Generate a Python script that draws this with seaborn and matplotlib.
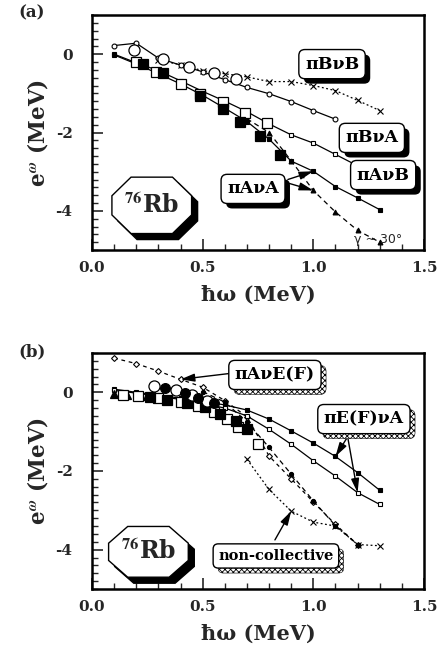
import numpy as np
import pandas as pd
import matplotlib
matplotlib.use('Agg')
import matplotlib.pyplot as plt
import seaborn as sns
from matplotlib.ticker import MultipleLocator, FixedLocator
from matplotlib.patches import Polygon
import matplotlib.transforms as mtransforms
import matplotlib.patheffects as pe

sns.set_theme(style='ticks')
plt.rcParams['font.family'] = ['DejaVu Serif']
plt.rcParams['font.weight'] = 'bold'
plt.rcParams['mathtext.fontset'] = 'stix'
plt.rcParams['hatch.linewidth'] = 0.6

# ---------------- data: panel (a) ----------------
a_BvB_x = [0.3, 0.4, 0.5, 0.6, 0.7, 0.8, 0.9, 1.0, 1.1, 1.2, 1.3]
a_BvB_y = [-0.15, -0.27, -0.42, -0.50, -0.58, -0.70, -0.70, -0.80, -0.93, -1.18, -1.44]
a_BvA_x = [0.1, 0.2, 0.3, 0.4, 0.5, 0.6, 0.7, 0.8, 0.9, 1.0, 1.1]
a_BvA_y = [0.22, 0.28, -0.10, -0.28, -0.45, -0.65, -0.85, -1.01, -1.21, -1.44, -1.66]
a_AvB_x = [0.1, 0.2, 0.3, 0.4, 0.5, 0.6, 0.7, 0.8, 0.9, 1.0, 1.1, 1.2]
a_AvB_y = [0.0, -0.22, -0.42, -0.68, -0.95, -1.20, -1.47, -1.78, -2.06, -2.27, -2.56, -2.85]
a_AvA_x = [0.1, 0.2, 0.3, 0.4, 0.5, 0.6, 0.7, 0.8, 0.9, 1.0, 1.1, 1.2, 1.3]
a_AvA_y = [-0.02, -0.25, -0.50, -0.76, -1.05, -1.38, -1.72, -2.17, -2.73, -2.99, -3.38, -3.67, -3.97]
a_AvA30_x = [0.7, 0.8, 0.9, 1.0, 1.1, 1.2, 1.3]
a_AvA30_y = [-1.65, -2.00, -2.72, -3.48, -4.03, -4.50, -4.80]
a_expB_x = [0.19, 0.32, 0.44, 0.55, 0.65]
a_expB_y = [0.11, -0.13, -0.34, -0.48, -0.64]
a_expA_open_x = [0.20, 0.29, 0.40, 0.49, 0.59, 0.69, 0.79]
a_expA_open_y = [-0.21, -0.45, -0.76, -1.02, -1.23, -1.50, -1.76]
a_expA_fill_x = [0.23, 0.32, 0.49, 0.59, 0.67, 0.76, 0.85]
a_expA_fill_y = [-0.26, -0.47, -1.06, -1.40, -1.74, -2.10, -2.57]

# ---------------- data: panel (b) ----------------
b_AvEF_x = [0.1, 0.2, 0.3, 0.4, 0.5, 0.6, 0.7, 0.8, 0.9, 1.0, 1.1, 1.2]
b_AvEF_y = [0.87, 0.73, 0.54, 0.33, 0.13, -0.21, -0.62, -1.62, -2.20, -2.79, -3.36, -3.87]
b_AvEF2_x = [0.5, 0.6, 0.7, 0.8, 0.9, 1.0, 1.1, 1.2]
b_AvEF2_y = [0.02, -0.25, -0.75, -1.40, -2.08, -2.76, -3.39, -3.87]
b_nc_x = [0.7, 0.8, 0.9, 1.0, 1.1, 1.2, 1.3]
b_nc_y = [-1.70, -2.47, -3.02, -3.30, -3.40, -3.87, -3.90]
b_EF_x = [0.1, 0.2, 0.3, 0.4, 0.5, 0.6, 0.7, 0.8, 0.9, 1.0, 1.1, 1.2, 1.3]
b_EFvA_up_y = [0.08, 0.0, -0.07, -0.15, -0.23, -0.32, -0.45, -0.68, -0.98, -1.29, -1.63, -2.04, -2.49]
b_EFvA_lo_y = [0.05, -0.02, -0.10, -0.18, -0.28, -0.40, -0.60, -0.94, -1.32, -1.74, -2.13, -2.55, -2.85]
b_oc_x = [0.28, 0.38, 0.45, 0.52]
b_oc_y = [0.17, 0.05, -0.08, -0.22]
b_fc_x = [0.33, 0.42, 0.48, 0.55]
b_fc_y = [0.12, -0.02, -0.15, -0.28]
b_ft_x = [0.10, 0.16, 0.22, 0.28]
b_ft_y = [-0.03, -0.06, -0.09, -0.13]
b_os_x = [0.14, 0.21, 0.30, 0.40, 0.48, 0.55, 0.61, 0.66, 0.75]
b_os_y = [-0.06, -0.09, -0.15, -0.24, -0.34, -0.50, -0.68, -0.89, -1.32]
b_fs_x = [0.26, 0.34, 0.43, 0.51, 0.58, 0.65, 0.70]
b_fs_y = [-0.12, -0.19, -0.28, -0.38, -0.55, -0.72, -0.94]

xticks = [0.0, 0.5, 1.0, 1.5]
yticks = [0, -2, -4]

W, H = 441, 652
fig = plt.figure(figsize=(W / 100, H / 100), dpi=100)
ax_a = fig.add_axes([92 / W, 1 - 250 / H, 332 / W, 235 / H])
ax_b = fig.add_axes([92 / W, 1 - 589 / H, 332 / W, 236 / H])


def line(ax, x, y, marker, filled, ms=3.5, ls='-', lw=0.9, z=3):
    sns.lineplot(x=x, y=y, ax=ax, color='black', sort=False, estimator=None,
                 marker=marker, markersize=ms, markeredgecolor='black',
                 markerfacecolor='black' if filled else 'white',
                 markeredgewidth=0.8, linestyle=ls, linewidth=lw, zorder=z)


def pts(ax, x, y, marker, filled, ms=7.5, z=4):
    sns.lineplot(x=x, y=y, ax=ax, color='black', sort=False, estimator=None,
                 marker=marker, markersize=ms, markeredgecolor='black',
                 markerfacecolor='black' if filled else 'white',
                 markeredgewidth=0.9, linestyle='none', zorder=z)


def style_axes(ax):
    ax.set_xlim(0, 1.5)
    ax.set_ylim(-5, 1)
    ax.xaxis.set_major_locator(FixedLocator(xticks))
    ax.xaxis.set_minor_locator(MultipleLocator(0.1))
    ax.yaxis.set_major_locator(FixedLocator(yticks))
    ax.yaxis.set_minor_locator(MultipleLocator(0.2))
    ax.set_xticklabels([f"{t:.1f}" for t in xticks])
    ax.set_yticklabels([f"{t:d}" for t in yticks])
    ax.tick_params(which='major', direction='in', length=8, width=1.2,
                   labelsize=11, pad=8, top=False, right=False)
    ax.tick_params(which='minor', direction='in', length=4, width=1.0,
                   top=False, right=False)
    ax.tick_params(axis='y', which='major', pad=14)
    for lab in ax.get_xticklabels() + ax.get_yticklabels():
        lab.set_fontweight('bold')
    for s in ax.spines.values():
        s.set_linewidth(1.8)
        s.set_color('black')
    ax.set_xlabel('ħω (MeV)', fontsize=15, fontweight='bold', labelpad=7)
    ax.set_ylabel(r'e$^{\omega}$ (MeV)', fontsize=15.5, fontweight='bold', labelpad=4)
    ax.set_facecolor('white')


def label_box(ax, fx, fy, text, hatch=False, fs=12.5):
    t = ax.text(fx, fy, text, transform=ax.transAxes, ha='center', va='center', fontsize=fs,
                fontweight='bold', color='black',
                bbox=dict(boxstyle='round,pad=0.35', fc='white', ec='black', lw=1), zorder=9)
    if hatch:
        shadow = pe.PathPatchEffect(offset=(3.6, -3.6), hatch='xxxxxx',
                                    facecolor='white', edgecolor='black', linewidth=0.4)
    else:
        shadow = pe.SimplePatchShadow(offset=(3.6, -3.6), shadow_rgbFace='black', alpha=1.0)
    t.get_bbox_patch().set_path_effects([shadow, pe.Normal()])


def octagon(ax, x0, x1, y0, y1):
    cx = (x1 - x0) * 0.24
    cy = (y1 - y0) * 0.33
    verts = [(x0 + cx, y1), (x1 - cx, y1), (x1, y1 - cy), (x1, y0 + cy),
             (x1 - cx, y0), (x0 + cx, y0), (x0, y0 + cy), (x0, y1 - cy)]
    sh = mtransforms.offset_copy(ax.transAxes, fig=fig, x=6, y=-6, units='dots')
    ax.add_patch(Polygon(verts, closed=True, transform=sh, fc='black', ec='black', zorder=8))
    ax.add_patch(Polygon(verts, closed=True, transform=ax.transAxes, fc='white',
                         ec='black', lw=1, zorder=9))
    ax.text((x0 + x1) / 2, (y0 + y1) / 2, r'$^{76}$Rb', transform=ax.transAxes,
            ha='center', va='center', fontsize=17, fontweight='bold', zorder=10)


def arrow(ax, tip, start):
    ax.annotate('', xy=tip, xycoords='data', xytext=start, textcoords='axes fraction',
                arrowprops=dict(arrowstyle='-|>,head_length=0.7,head_width=0.2',
                                color='black', lw=1, shrinkA=0, shrinkB=0), zorder=7)


# ---------------- panel (a) ----------------
ax = ax_a
line(ax, a_BvB_x, a_BvB_y, 'x', True, ms=4, ls=(0, (1.5, 2)))
line(ax, a_BvA_x, a_BvA_y, 'o', False)
line(ax, a_AvB_x, a_AvB_y, 's', False)
line(ax, a_AvA_x, a_AvA_y, 's', True)
line(ax, a_AvA30_x, a_AvA30_y, '^', True, ls=(0, (4, 3)))
pts(ax, a_expB_x, a_expB_y, 'o', False, ms=8)
pts(ax, a_expA_open_x, a_expA_open_y, 's', False, ms=7)
pts(ax, a_expA_fill_x, a_expA_fill_y, 's', True, ms=7)
style_axes(ax)
label_box(ax, 0.723, 0.791, 'πBνB')
label_box(ax, 0.843, 0.477, 'πBνA')
label_box(ax, 0.877, 0.319, 'πAνB')
label_box(ax, 0.485, 0.260, 'πAνA')
arrow(ax, (a_AvA_x[9], a_AvA_y[9]), (0.59, 0.30))
arrow(ax, (a_AvA30_x[3], a_AvA30_y[3]), (0.59, 0.285))
ax.text(0.79, 0.043, 'γ ~ 30°', transform=ax.transAxes, ha='left', va='center',
        fontsize=9, fontweight='normal', family=['DejaVu Sans'], zorder=9)
octagon(ax, 0.06, 0.30, 0.07, 0.31)

# ---------------- panel (b) ----------------
ax = ax_b
line(ax, b_AvEF_x, b_AvEF_y, 'D', False, ms=3, ls=(0, (3, 3)))
line(ax, b_AvEF2_x, b_AvEF2_y, 'o', True, ms=3, ls=(0, (4, 3)))
line(ax, b_nc_x, b_nc_y, 'x', True, ms=5, ls=(0, (1.5, 2)))
line(ax, b_EF_x, b_EFvA_up_y, 's', True, ms=3)
line(ax, b_EF_x, b_EFvA_lo_y, 's', False, ms=3)
pts(ax, b_ft_x, b_ft_y, '^', True, ms=6)
pts(ax, b_os_x, b_os_y, 's', False, ms=7)
pts(ax, b_fs_x, b_fs_y, 's', True, ms=7)
pts(ax, b_oc_x, b_oc_y, 'o', False, ms=8)
pts(ax, b_fc_x, b_fc_y, 'o', True, ms=7)
style_axes(ax)
label_box(ax, 0.551, 0.907, 'πAνE(F)', hatch=True)
label_box(ax, 0.819, 0.720, 'πE(F)νA', hatch=True)
label_box(ax, 0.554, 0.140, 'non-collective', hatch=True, fs=10.5)
arrow(ax, (b_AvEF_x[3], b_AvEF_y[3]), (0.425, 0.915))
arrow(ax, (b_EF_x[10], b_EFvA_up_y[10]), (0.77, 0.645))
arrow(ax, (b_EF_x[11], b_EFvA_lo_y[11]), (0.77, 0.645))
arrow(ax, (b_nc_x[2], b_nc_y[2]), (0.551, 0.208))
octagon(ax, 0.05, 0.29, 0.05, 0.265)

fig.text(18 / W, 1 - 13 / H, '(a)', fontsize=12, fontweight='bold', va='center', ha='left')
fig.text(18 / W, 1 - 352 / H, '(b)', fontsize=12, fontweight='bold', va='center', ha='left')

fig.savefig('out.png', dpi=100, facecolor='white')
